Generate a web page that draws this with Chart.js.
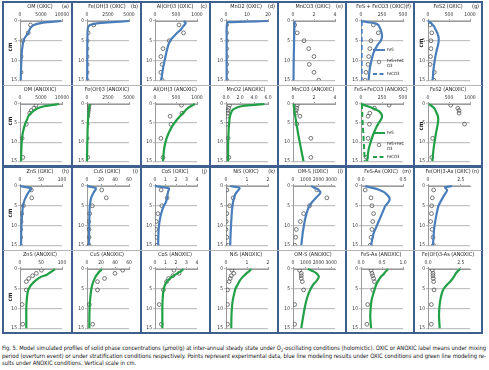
<!DOCTYPE html>
<html>
<head>
<meta charset="utf-8">
<script src="https://cdn.jsdelivr.net/npm/chart.js@4.4.1/dist/chart.umd.min.js"></script>
<style>
body { margin: 0; background: #fff; }
#fig { position: relative; width: 489px; height: 370px; overflow: hidden; background: #fff; }
#fig canvas { position: absolute; }
.bl { position: absolute; background: #3f5f8e; }
.dv { position: absolute; background: #b5b5b5; height: 1px; }
#cap { position: absolute; left: 2px; top: 344px; width: 484px; font-family: "Liberation Sans Narrow", "DejaVu Sans Condensed", sans-serif; font-size: 6px; line-height: 7.5px; color: #111; }
#cap span { display: inline-block; white-space: nowrap; transform-origin: 0 50%; }
sub { font-size: 4.5px; line-height: 0; }
</style>
</head>
<body>
<div id="fig">
  <div id="cap">
    <div><span>Fig. 5. Model simulated profiles of solid phase concentrations (μmol/g) at inter-annual steady state under O<sub>2</sub>-oscillating conditions (holomictic). OXIC or ANOXIC label means under mixing</span></div>
    <div><span>period (overturn event) or under stratification conditions respectively. Points represent experimental data, blue line modeling results under OXIC conditions and green line modeling re-</span></div>
    <div><span>sults under ANOXIC conditions. Vertical scale in cm.</span></div>
  </div>
</div>
<script>
// profondeurs (cm)
const modelDepth = [0, 0.3, 0.6, 1, 1.5, 2, 3, 4, 5, 6, 8, 10, 12, 15];
const oxicDepth = [1, 3, 5, 7, 9, 11, 13, 15];
const anoxicDepth = [0.3, 1.1, 1.7, 2.4, 3.2, 5.3, 9, 14];
const depthTicks = [0, 5, 10, 15];

// rangée 1 (OXIC)
const omOxic = [9800, 6500, 4600, 3300, 2700, 2350, 2000, 1300, 850, 650, 420, 330, 250, 180];
const omOxicPts = [2500, 1950, 680, null, 250, null, 250, null];
const feoh3Oxic = [5000, 3000, 1200, 350, 150, 90, 60, 50, 40, 35, 30, 25, 25, 20];
const feoh3OxicPts = [800, 130, 10, 10, 10, 10, 10, 10];
const aloh3Oxic = [680, 720, 730, 700, 660, 630, 530, 440, 360, 320, 270, 230, 190, 150];
const aloh3OxicPts = [570, 680, 340, 190, 140, 170, 140, 170];
const mno2Oxic = [20, 1, 0.5, 0.4, 0.35, 0.3, 0.3, 0.3, 0.3, 0.3, 0.3, 0.3, 0.3, 0.3];
const mno2OxicPts = [0.3, 0.3, 0.3, 0.3, 0.3, 0.3, 0.3, 0.3];
const mnco3Oxic = [0.15, 0.15, 0.15, 0.14, 0.14, 0.13, 0.12, 0.11, 0.1, 0.1, 0.08, 0.07, 0.06, 0.05];
const mnco3OxicPts = [0.16, 0.4, 1.05, 1.5, 2.0, 1.55, 2.0, 2.45];
const fesOxic = [0, 80, 170, 205, 220, 230, 245, 250, 235, 200, 150, 125, 105, 90];
const feco3Oxic = [8, 8, 8, 8, 8, 8, 8, 8, 8, 8, 8, 8, 8, 8];
const fesFeco3OxicPts = [147, 206, 118, 105, 92, 84, 59, 50];
const fes2Oxic = [0, 40, 80, 110, 150, 175, 220, 250, 255, 240, 195, 160, 135, 110];
const fes2OxicPts = [45, 90, 70, 70, 60, 50, 150, 140];

// rangée 2 (ANOXIC)
const omAnoxic = [9300, 7500, 5800, 4500, 3600, 3000, 2100, 1700, 1300, 1000, 600, 420, 320, 250];
const omAnoxicPts = [3800, 3300, 2700, 2300, null, 1500, 500, 680];
const feoh3Anoxic = [350, 320, 290, 260, 230, 200, 150, 120, 100, 80, 60, 40, 20, 0];
const feoh3AnoxicPts = [250, 200, 170, 140, 110, 20, 10, 80];
const aloh3Anoxic = [950, 900, 850, 790, 740, 700, 610, 530, 460, 400, 310, 250, 215, 190];
const aloh3AnoxicPts = [630, null, null, 640, 360, 380, 140, 190];
const mno2Anoxic = [5.5, 3.5, 2.2, 1.5, 1.0, 0.8, 0.6, 0.5, 0.45, 0.4, 0.35, 0.3, 0.3, 0.3];
const mno2AnoxicPts = [0.5, 0.4, 0.3, 0.25, 0.2, 0.1, 0.3, 0.4];
const mnco3Anoxic = [0.06, 0.07, 0.08, 0.1, 0.12, 0.14, 0.2, 0.26, 0.32, 0.38, 0.5, 0.64, 0.78, 1.0];
const mnco3AnoxicPts = [0.4, 0.36, 0.3, 0.27, 0.66, 0.36, 1.7, 1.7];
const fesAnoxic = [0, 40, 80, 130, 180, 220, 250, 240, 210, 185, 145, 115, 90, 73];
const feco3Anoxic = [10, 10, 11, 12, 13, 14, 16, 18, 20, 23, 28, 33, 38, 45];
const fesFeco3AnoxicPts = [335, 160, null, 105, 85, 100, 85, 65];
const fes2Anoxic = [20, 60, 100, 140, 170, 190, 230, 245, 235, 220, 185, 155, 130, 105];
const fes2AnoxicPts = [540, 710, 740, 740, null, 870, 110, 90];

// rangée 3 (OXIC)
const znsOxic = [0, 14, 27, 25, 21, 18, 13, 9.5, 7, 6, 4.5, 3.5, 3, 2.4];
const znsOxicPts = [27, 28, 8, 4, 2.4, 1.6, 1.6, 1];
const cusOxic = [0, 8, 13, 12, 10, 8.5, 6, 4.8, 4, 3.7, 3.4, 3.2, 3, 2.9];
const cusOxicPts = [21, 27.6, 7.6, 3.8, 2.4, 2.9, 2.9, 2.9];
const cosOxic = [0, 0.8, 1.35, 1.3, 1.25, 1.2, 1.15, 1.05, 0.85, 0.7, 0.5, 0.38, 0.33, 0.3];
const cosOxicPts = [0.58, 1.15, 0.65, 0.27, 0.12, 0.08, 0.12, 0.2];
const nisOxic = [0.2, 0.55, 0.65, 0.6, 0.52, 0.45, 0.38, 0.34, 0.31, 0.29, 0.26, 0.24, 0.22, 0.2];
const nisOxicPts = [0.04, 0.34, 0.17, 0.04, 0.01, 0, 0.04, 0.12];
const omsOxic = [1430, 1600, 1800, 2000, 2150, 2100, 1800, 1520, 1300, 1160, 980, 860, 760, 650];
const omsOxicPts = [1880, 2660, 1300, 835, 575, 260, 210, 130];
const fesAsOxic = [0.05, 0.1, 0.16, 0.22, 0.27, 0.3, 0.34, 0.33, 0.29, 0.27, 0.23, 0.19, 0.15, 0.12];
const fesAsOxicPts = [0.05, 0.12, 0.13, 0.15, 0.14, 0.13, 0.12, 0.11];
const feoh3AsOxic = [1.84, 1.3, 1.35, 1.45, 1.4, 1.3, 1.12, 0.95, 0.8, 0.72, 0.6, 0.5, 0.44, 0.38];
const feoh3AsOxicPts = [0.43, 0.33, 0.28, 0.26, 0.2, 0.31, 0.38, 0.41];

// rangée 4 (ANOXIC)
const znsAnoxic = [83, 80, 76, 70, 63, 50, 36, 27, 21, 18, 16, 15, 15, 15];
const znsAnoxicPts = [51, 39, 30, 21, 15, 15, 5, 6.5];
const cusAnoxic = [21, 20, 18, 16, 14, 12, 9.5, 7.5, 6.3, 5.5, 4.3, 3.7, 3.4, 3.3];
const cusAnoxicPts = [51, 40, null, 25, 15, 15, 3.3, 8];
const cosAnoxic = [2.7, 2.6, 2.45, 2.2, 1.9, 1.6, 1.2, 0.95, 0.85, 0.78, 0.72, 0.7, 0.7, 0.7];
const cosAnoxicPts = [1.8, 2.3, 1.7, 1.3, 1.1, 0.8, 0.4, 0.6];
const nisAnoxic = [1.2, 1.15, 1.1, 1.0, 0.9, 0.8, 0.65, 0.55, 0.45, 0.4, 0.32, 0.28, 0.26, 0.25];
const nisAnoxicPts = [0.28, 0.37, 0.25, 0.2, 0.15, 0.07, 0.07, 0.07];
const omsAnoxic = [1170, 1400, 1600, 1800, 1960, 2030, 1850, 1570, 1400, 1250, 1050, 910, 800, 650];
const omsAnoxicPts = [520, 650, 650, 650, 730, 835, 130, 130];
const fesAsAnoxic = [0.64, 0.62, 0.59, 0.56, 0.52, 0.47, 0.41, 0.36, 0.33, 0.3, 0.25, 0.23, 0.22, 0.24];
const fesAsAnoxicPts = [0.24, 0.26, 0.28, 0.3, 0.32, 0.28, 0.16, 0.14];
const feoh3AsAnoxic = [2.45, 2.35, 2.25, 2.15, 2.05, 1.97, 1.75, 1.45, 1.2, 1.07, 0.93, 0.86, 0.84, 0.89];
const feoh3AsAnoxicPts = [0.33, 0.38, 0.38, 0.4, 0.43, 0.46, 0.25, 0.25];

// titres, lettres, axes
const titles = [
  ['OM (OXIC)', 'Fe(OH)3 (OXIC)', 'Al(OH)3 (OXIC)', 'MnO2 (OXIC)', 'MnCO3 (OXIC)', 'FeS + FeCO3 (OXIC)', 'FeS2 (OXIC)'],
  ['OM (ANOXIC)', 'Fe(OH)3 (ANOXIC)', 'Al(OH)3 (ANOXIC)', 'MnO2 (ANOXIC)', 'MnCO3 (ANOXIC)', 'FeS+FeCO3 (ANOXIC)', 'FeS2 (ANOXIC)'],
  ['ZnS (OXIC)', 'CuS (OXIC)', 'CoS (OXIC)', 'NiS (OXIC)', 'OM-S (OXIC)', 'FeS-As (OXIC)', 'Fe(OH)3-As (OXIC)'],
  ['ZnS (ANOXIC)', 'CuS (ANOXIC)', 'CoS (ANOXIC)', 'NiS (ANOXIC)', 'OM-S (ANOXIC)', 'FeS-As (ANOXIC)', 'Fe(OH)3-As (ANOXIC)']
];
const letters = [
  ['(a)', '(b)', '(c)', '(d)', '(e)', '(f)', '(g)'],
  ['', '', '', '', '', '', ''],
  ['(h)', '(i)', '(j)', '(k)', '(l)', '(m)', '(n)'],
  ['', '', '', '', '', '', '']
];
const tickLabels = [
  [['0', '5000', '10000'], ['0', '2500', '5000'], ['0', '500', '1000'], ['0', '10', '20'], ['0', '2', '4'], ['0', '250', '500'], ['0', '500', '1000']],
  [['0', '5000', '10000'], ['0', '2500', '5000'], ['0', '500', '1000'], ['0.0', '2.0', '4.0', '6.0'], ['0', '2', '4'], ['0', '250', '500'], ['0', '500', '1000']],
  [['0', '50', '100'], ['0', '20', '40', '60'], ['0', '1', '2', '3', '4'], ['0', '1', '2'], ['0', '1000', '2000', '3000'], ['0.0', '0.5'], ['0', '2.5']],
  [['0', '50', '100'], ['0', '20', '40', '60'], ['0', '1', '2', '3', '4'], ['0', '1', '2'], ['0', '1000', '2000', '3000'], ['0.0', '0.5', '1.0'], ['0.0', '2.5']]
];
const axisMax = [
  [10000, 5000, 1000, 20, 4, 500, 1000],
  [10000, 5000, 1000, 6, 4, 500, 1000],
  [100, 60, 4, 2, 3300, 0.5, 3.2],
  [100, 60, 4, 2, 3300, 1.0, 3.2]
];
const lines = [
  [omOxic, feoh3Oxic, aloh3Oxic, mno2Oxic, mnco3Oxic, fesOxic, fes2Oxic],
  [omAnoxic, feoh3Anoxic, aloh3Anoxic, mno2Anoxic, mnco3Anoxic, fesAnoxic, fes2Anoxic],
  [znsOxic, cusOxic, cosOxic, nisOxic, omsOxic, fesAsOxic, feoh3AsOxic],
  [znsAnoxic, cusAnoxic, cosAnoxic, nisAnoxic, omsAnoxic, fesAsAnoxic, feoh3AsAnoxic]
];
const dashed = [
  [null, null, null, null, null, feco3Oxic, null],
  [null, null, null, null, null, feco3Anoxic, null],
  [], []
];
const points = [
  [omOxicPts, feoh3OxicPts, aloh3OxicPts, mno2OxicPts, mnco3OxicPts, fesFeco3OxicPts, fes2OxicPts],
  [omAnoxicPts, feoh3AnoxicPts, aloh3AnoxicPts, mno2AnoxicPts, mnco3AnoxicPts, fesFeco3AnoxicPts, fes2AnoxicPts],
  [znsOxicPts, cusOxicPts, cosOxicPts, nisOxicPts, omsOxicPts, fesAsOxicPts, feoh3AsOxicPts],
  [znsAnoxicPts, cusAnoxicPts, cosAnoxicPts, nisAnoxicPts, omsAnoxicPts, fesAsAnoxicPts, feoh3AsAnoxicPts]
];

// mise en page
const colX = [3, 72, 141, 210, 278, 346, 414, 482];
const rowY = [2, 85, 167, 250];
const rowH = [83, 81, 83, 83];
const yW = [17, 15, 14, 16, 15, 15, 14];
const FONT = '"Liberation Sans Narrow", "DejaVu Sans Condensed", sans-serif';
const BLUE = '#4a7ebb';
const GREEN = '#22a046';

Chart.defaults.font.family = FONT;
Chart.defaults.font.size = 5;
Chart.defaults.color = '#333';

const fig = document.getElementById('fig');

// titre, lettre, "cm" et légende dessinés sur le canvas
const deco = {
  id: 'deco',
  afterDraw(chart, args, o) {
    const c = chart.ctx, a = chart.chartArea;
    c.save();
    c.fillStyle = '#222';
    c.textBaseline = 'middle';
    c.font = '5.5px ' + FONT;
    c.textAlign = 'center';
    c.fillText(o.title, (a.left + a.right) / 2 - 1, 5);
    if (o.letter) {
      c.textAlign = 'right';
      c.fillText(o.letter, chart.width - 3, 5);
    }
    if (o.cm) {
      c.save();
      c.translate(o.cm[0], o.cm[1]);
      c.rotate(-Math.PI / 2);
      c.textAlign = 'center';
      c.font = 'bold 6px ' + FONT;
      c.fillText('cm', 0, 0);
      c.restore();
    }
    if (o.legend) {
      const x0 = a.left + 12, x1 = a.left + 24;
      c.font = '4.3px ' + FONT;
      c.textAlign = 'left';
      c.strokeStyle = o.color;
      c.lineWidth = 2;
      c.beginPath(); c.moveTo(x0, 48); c.lineTo(x1, 48); c.stroke();
      c.fillText('FeS', x1 + 2, 48);
      c.lineWidth = 0.8;
      c.strokeStyle = '#666';
      c.beginPath(); c.arc((x0 + x1) / 2, 60, 1.8, 0, Math.PI * 2); c.stroke();
      c.fillText('FeS+FeC', x1 + 2, 59);
      c.fillText('O3', x1 + 2, 63.5);
      c.strokeStyle = o.color;
      c.lineWidth = 2;
      c.setLineDash([4, 2.5]);
      c.beginPath(); c.moveTo(x0, 72); c.lineTo(x1, 72); c.stroke();
      c.setLineDash([]);
      c.fillText('FeCO3', x1 + 2, 72);
    }
    c.restore();
  }
};

function makePanel(r, k) {
  const cv = document.createElement('canvas');
  const w = colX[k + 1] - colX[k];
  cv.width = w;
  cv.height = rowH[r];
  cv.style.left = colX[k] + 'px';
  cv.style.top = rowY[r] + 'px';
  fig.appendChild(cv);

  const colr = r % 2 === 1 ? GREEN : BLUE;
  const labels = tickLabels[r][k];
  const ticks = labels.map(parseFloat);
  const datasets = [];
  datasets.push({
    data: modelDepth.map((d, i) => ({ x: lines[r][k][i], y: d })),
    showLine: true, borderColor: colr, borderWidth: 2.2, pointRadius: 0, tension: 0.25, clip: 2
  });
  if (dashed[r][k]) {
    datasets.push({
      data: modelDepth.map((d, i) => ({ x: dashed[r][k][i], y: d })),
      showLine: true, borderColor: colr, borderWidth: 2, borderDash: [5, 3], pointRadius: 0, tension: 0.2
    });
  }
  const depths = r % 2 === 0 ? oxicDepth : anoxicDepth;
  datasets.push({
    data: depths.map((d, i) => ({ x: points[r][k][i], y: d })).filter(q => q.x !== null),
    showLine: false, pointRadius: 1.9, pointBorderWidth: 0.8,
    pointBorderColor: '#555', pointBackgroundColor: 'rgba(255,255,255,0)'
  });

  let cm = null;
  if (k === 0) cm = [7, [45, 36, 46, 47][r]];
  if (k === 6 && r < 2) cm = [7, 41];

  new Chart(cv, {
    type: 'scatter',
    data: { datasets },
    options: {
      responsive: false,
      animation: false,
      devicePixelRatio: 1,
      events: [],
      layout: { padding: { top: 9, right: w - yW[k] - 42, bottom: 4, left: 0 } },
      plugins: {
        legend: { display: false },
        tooltip: { enabled: false },
        deco: { title: titles[r][k], letter: letters[r][k], cm: cm, legend: k === 5 && r < 2, color: colr }
      },
      scales: {
        x: {
          type: 'linear', position: 'top', min: 0, max: axisMax[r][k],
          afterBuildTicks: s => { s.ticks = ticks.map(v => ({ value: v })); },
          afterFit: s => { s.height = 10; },
          ticks: { callback: (v, i) => labels[i], padding: 1, maxRotation: 0, autoSkip: false },
          grid: { drawOnChartArea: false, tickLength: 2, color: '#9a9a9a' },
          border: { color: '#9a9a9a' }
        },
        y: {
          type: 'linear', min: 0, max: 15, reverse: true,
          afterBuildTicks: s => { s.ticks = depthTicks.map(v => ({ value: v })); },
          afterFit: s => { s.width = yW[k]; },
          ticks: { padding: 1 },
          grid: { color: '#c2c2c2', lineWidth: 1.2, tickLength: 2 },
          border: { color: '#9a9a9a' }
        }
      }
    },
    plugins: [deco]
  });
}

for (let r = 0; r < 4; r++) {
  for (let k = 0; k < 7; k++) makePanel(r, k);
}

// cadres bleus et séparateurs
function addDiv(cls, x, y, w, h) {
  const d = document.createElement('div');
  d.className = cls;
  d.style.left = x + 'px'; d.style.top = y + 'px';
  d.style.width = w + 'px'; d.style.height = h + 'px';
  fig.appendChild(d);
}
const blocks = [[1, 166], [166, 333]];
blocks.forEach(b => {
  addDiv('bl', colX[0] - 1, b[0], colX[7] - colX[0] + 2, 2);
  addDiv('bl', colX[0] - 1, b[1] - 1, colX[7] - colX[0] + 2, 2);
  colX.forEach(x => addDiv('bl', x - 1, b[0], 2, b[1] - b[0]));
});
addDiv('dv', colX[0], 85, colX[7] - colX[0], 1);
addDiv('dv', colX[0], 250, colX[7] - colX[0], 1);

// légende : étirer les deux premières lignes sur toute la largeur
const spans = document.querySelectorAll('#cap span');
const sc = 484 / spans[0].getBoundingClientRect().width;
spans.forEach((s, i) => {
  const f = i < 2 ? 484 / s.getBoundingClientRect().width : sc;
  s.style.transform = 'scaleX(' + f + ')';
});
</script>
</body>
</html>
